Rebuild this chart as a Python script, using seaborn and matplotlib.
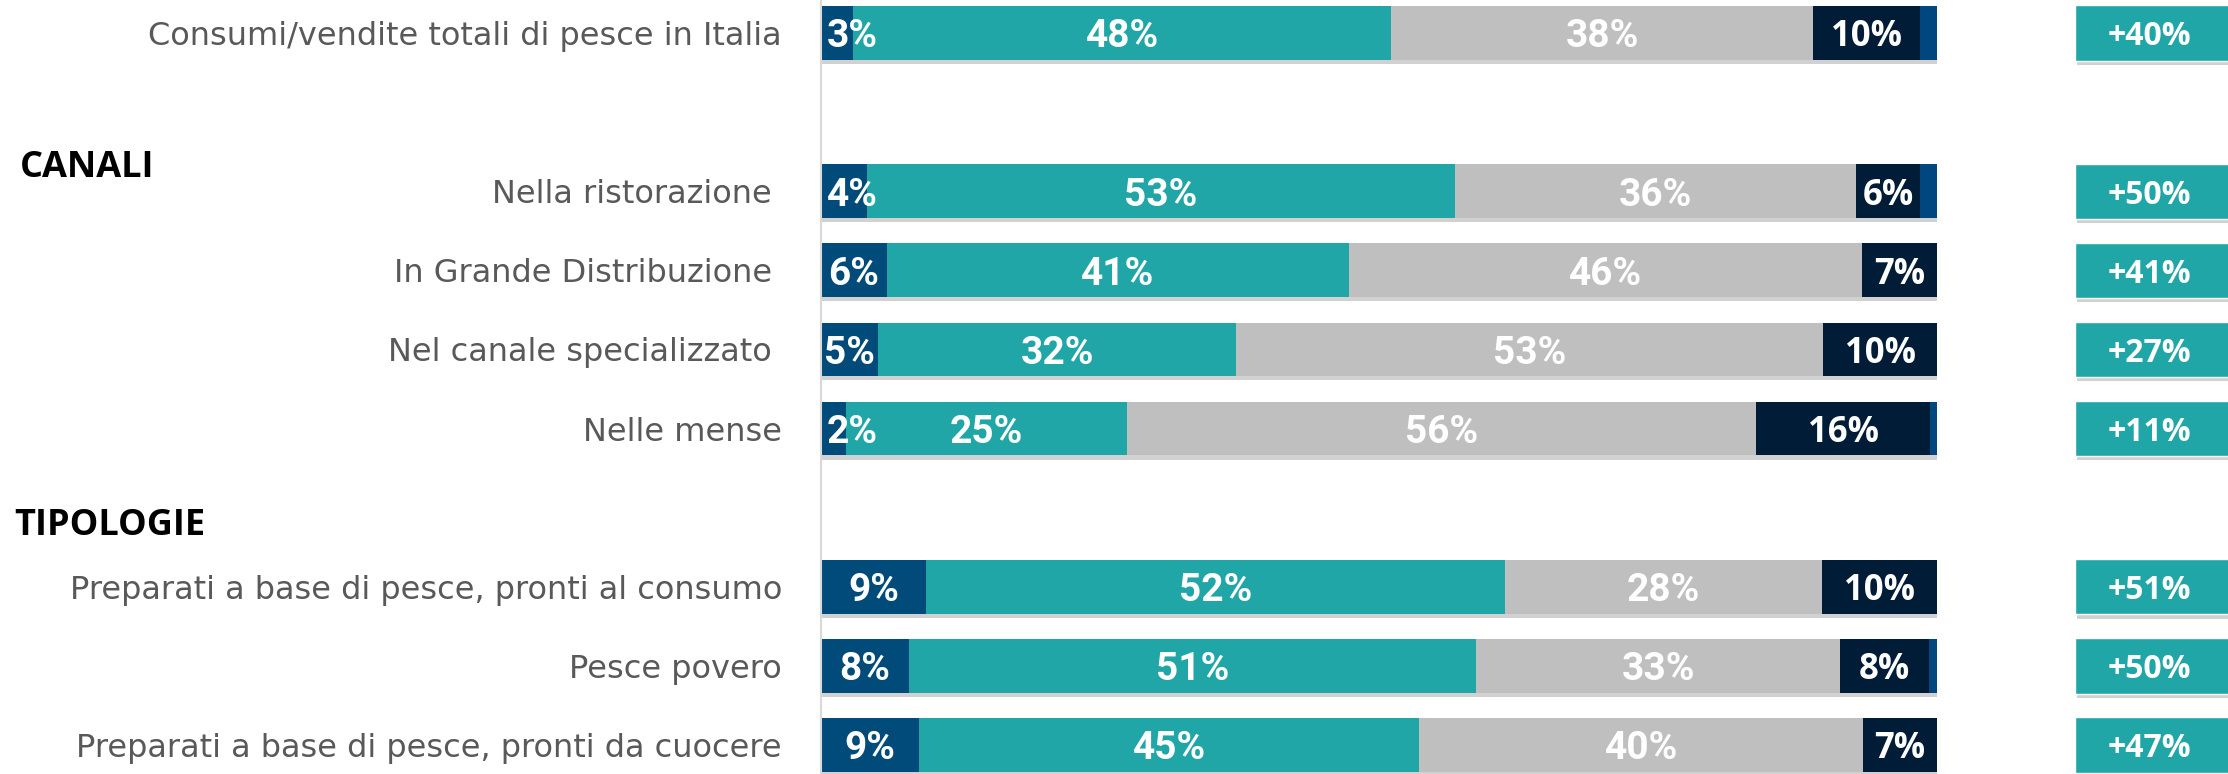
import numpy as np
import pandas as pd
import seaborn as sns
import matplotlib.pyplot as plt
import matplotlib.patheffects as pe

# dati (quote % per riga)
categorie = ["Consumi/vendite totali di pesce in Italia",
             "Nella ristorazione ",
             "In Grande Distribuzione ",
             "Nel canale specializzato ",
             "Nelle mense",
             "Preparati a base di pesce, pronti al consumo",
             "Pesce povero",
             "Preparati a base di pesce, pronti da cuocere"]
posizioni = [0, 2, 3, 4, 5, 7, 8, 9]
molto_aumentato = [2.9, 4.1, 5.9, 5.1, 2.2, 9.4, 7.9, 8.8]
aumentato = [48.2, 52.7, 41.4, 32.1, 25.2, 51.9, 50.8, 44.8]
stabile = [37.8, 35.9, 46.0, 52.6, 56.4, 28.4, 32.6, 39.8]
diminuito = [9.6, 5.8, 6.7, 10.2, 15.6, 10.3, 8.0, 6.6]
non_sa = [1.5, 1.5, 0.0, 0.0, 0.6, 0.0, 0.7, 0.0]
saldo = ["+40%", "+50%", "+41%", "+27%", "+11%", "+51%", "+50%", "+47%"]
sezioni = ["CANALI", "TIPOLOGIE"]
sezioni_pos = [1.71, 6.23]

sns.set_theme(style='white')
plt.rcParams['font.family'] = ['Open Sans', 'DejaVu Sans']

colori = ["#004b7a", "#21a6a7", "#bfbfbf", "#001c36", "#00467f"]
serie = [molto_aumentato, aumentato, stabile, diminuito, non_sa]
cum = np.cumsum(np.array(serie), axis=0)

fig = plt.figure(figsize=(22.28, 7.74), dpi=100)
ax = fig.add_axes([821 / 2228, 0, 1116 / 2228, 1])

shadow = [pe.SimplePatchShadow(offset=(1, -3), shadow_rgbFace='k', alpha=0.2), pe.Normal()]

# barre impilate: dalla cumulata totale verso la prima
for k in range(len(serie) - 1, -1, -1):
    df = pd.DataFrame({"valore": cum[k], "pos": posizioni})
    n0 = len(ax.patches)
    sns.barplot(data=df, x="valore", y="pos", orient="h", native_scale=True,
                color=colori[k], saturation=1, width=0.68, errorbar=None,
                linewidth=0, ax=ax)
    if k == len(serie) - 1:
        for p in ax.patches[n0:]:
            p.set_path_effects(shadow)

# etichette nelle barre
for i, y in enumerate(posizioni):
    for k in range(4):
        v = serie[k][i]
        left = cum[k - 1][i] if k > 0 else 0
        if k == 3:
            fam, fs = ['Open Sans', 'DejaVu Sans'], 25
        else:
            fam, fs = ['Roboto', 'DejaVu Sans'], 28
        if k == 0 and v < 5:
            ax.text(0.5, y, f"{round(v)}%", ha='left', va='center_baseline',
                    color='white', fontsize=fs, fontweight='bold', family=fam)
        else:
            ax.text(left + v / 2, y, f"{round(v)}%", ha='center', va='center_baseline',
                    color='white', fontsize=fs, fontweight='bold', family=fam)

# box saldo a destra
box = ax.barh(posizioni, 20, left=112.4, height=0.7, color="#21a6a7", clip_on=False)
for p in box:
    p.set_path_effects(shadow)
for y, s in zip(posizioni, saldo):
    ax.text(119.0, y, s, ha='center', va='center_baseline', color='white',
            fontsize=23, fontweight='bold')

ax.set_xlim(0, 100)
ax.set_ylim(9.367, -0.417)
ax.set_xlabel('')
ax.set_ylabel('')
ax.set_xticks([])
ax.set_yticks(posizioni, categorie)
ax.tick_params(axis='y', length=0, pad=28, labelsize=23, labelcolor='#595959')
for t in ax.get_yticklabels():
    t.set_family(['DejaVu Sans'])
for s in ['top', 'right', 'bottom']:
    ax.spines[s].set_visible(False)
ax.spines['left'].set_color('#d9d9d9')
ax.spines['left'].set_linewidth(1.5)

for testo, yy, x in zip(sezioni, sezioni_pos, [0.009, 0.0063]):
    fig.text(x, 1 - (33 + yy * 79.1) / 774, testo, ha='left', va='center',
             fontsize=26, fontweight='bold', color='black')

fig.savefig('out.png', dpi=100)
